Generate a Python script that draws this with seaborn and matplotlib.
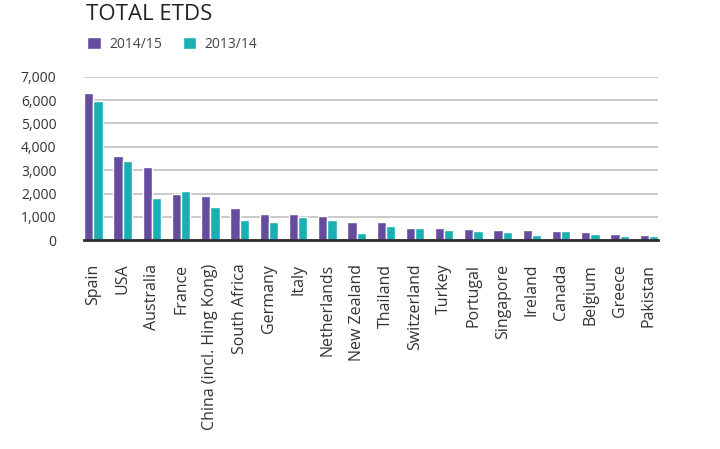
import matplotlib
matplotlib.use("Agg")
import matplotlib.pyplot as plt
import pandas as pd
import seaborn as sns

countries = ["Spain", "USA", "Australia", "France", "China (incl. Hing Kong)",
             "South Africa", "Germany", "Italy", "Netherlands", "New Zealand",
             "Thailand", "Switzerland", "Turkey", "Portugal", "Singapore",
             "Ireland", "Canada", "Belgium", "Greece", "Pakistan"]
etds_2014_15 = [6320, 3620, 3130, 2000, 1900, 1400, 1130, 1130, 1020, 790,
                790, 540, 540, 490, 420, 420, 380, 350, 280, 240]
etds_2013_14 = [5970, 3400, 1800, 2120, 1410, 880, 800, 990, 860, 300,
                620, 540, 420, 380, 350, 210, 380, 280, 180, 180]
years = ["2014/15", "2013/14"]
colors = ["#664C9E", "#19B0B2"]

df = pd.DataFrame({
    "country": countries * 2,
    "etds": etds_2014_15 + etds_2013_14,
    "year": [years[0]] * len(countries) + [years[1]] * len(countries),
})

sns.set_style("white")
plt.rcParams["font.family"] = ["Open Sans", "DejaVu Sans"]

fig = plt.figure(figsize=(7.2, 4.49), dpi=100)
ax = fig.add_axes([0.117, 0.465, 0.797, 0.364])

sns.barplot(df, x="country", y="etds", hue="year", palette=colors,
            width=0.63, gap=0, saturation=1, ax=ax, legend=True)

ax.set_ylim(0, 7000)
ax.set_xlim(-0.315, len(countries) - 1 + 0.315)
ax.set_yticks(range(0, 7001, 1000))
ax.set_yticklabels([f"{v:,}" for v in range(0, 7001, 1000)])
ax.yaxis.grid(True, color="#c6c6c6", linewidth=1.3)
ax.set_axisbelow(True)
ax.set_xlabel("")
ax.set_ylabel("")

for side in ["top", "right", "left"]:
    ax.spines[side].set_visible(False)
ax.spines["bottom"].set_color("#2e2a33")
ax.spines["bottom"].set_linewidth(2)

ax.tick_params(axis="y", length=0, pad=20, labelsize=10, labelcolor="#333333")
ax.tick_params(axis="x", length=0, pad=17, labelsize=11.5, labelcolor="#333333",
               rotation=90)

handles, labels = ax.get_legend_handles_labels()
ax.legend(handles, labels, ncol=2, frameon=False, loc="upper left",
          bbox_to_anchor=(0.104, 0.945), bbox_transform=fig.transFigure,
          handlelength=0.95, handleheight=0.95, handletextpad=0.6,
          columnspacing=1.5, fontsize=10, labelcolor="#444444")

fig.text(0.12, 0.945, "TOTAL ETDS", fontsize=16, color="#222222", ha="left",
         va="bottom")

fig.savefig("out.png", dpi=100)
